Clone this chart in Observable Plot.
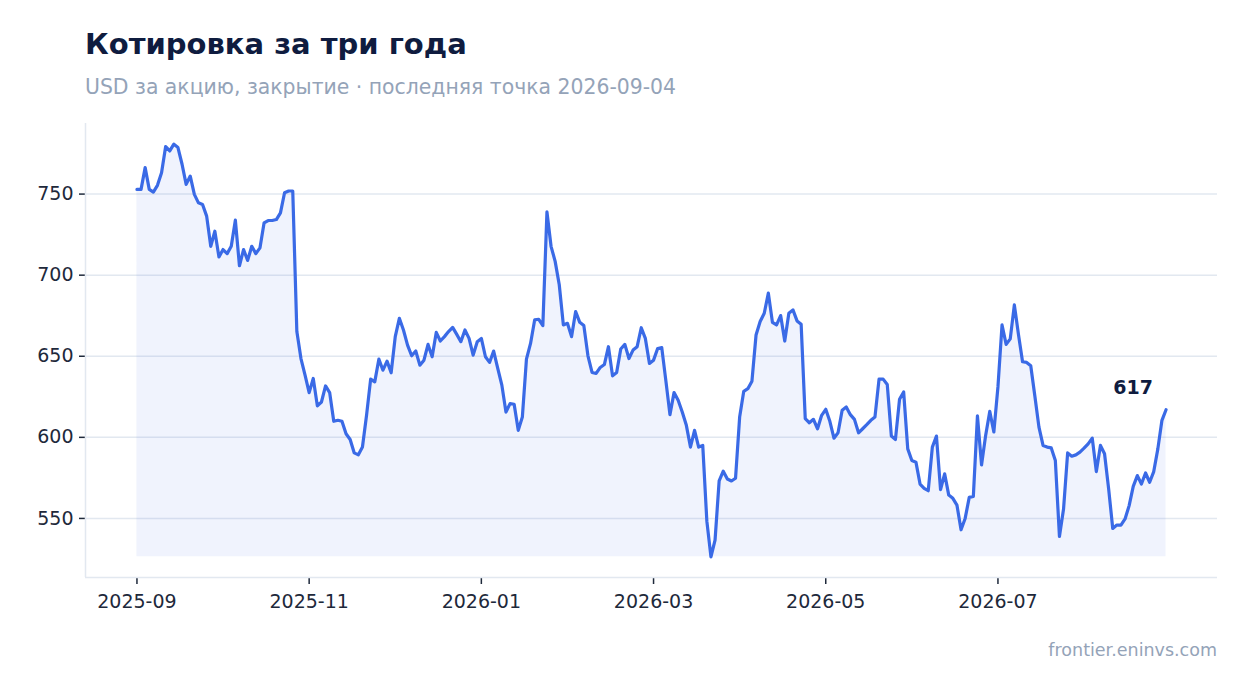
<!DOCTYPE html>
<html>
<head>
<meta charset="utf-8">
<script src="https://cdn.jsdelivr.net/npm/d3@7"></script>
<script src="https://cdn.jsdelivr.net/npm/@observablehq/plot@0.6"></script>
<style>
  html, body { margin: 0; padding: 0; background: #ffffff; }
  body { width: 1247px; height: 693px; overflow: hidden; position: relative; font-family: "DejaVu Sans", sans-serif; }
  #title { position: absolute; left: 85px; top: 30px; font-weight: bold; font-size: 29px; line-height: 29px; color: #0f1c3f; white-space: nowrap; }
  #sub { position: absolute; left: 85px; top: 77px; font-size: 20.4px; line-height: 20px; color: #94a3b8; white-space: nowrap; }
  #chart { position: absolute; left: 0; top: 110px; }
  #cap { position: absolute; right: 30px; top: 642px; font-size: 17.5px; line-height: 17px; color: #94a3b8; white-space: nowrap; }
  #chart svg g[aria-label="y-axis tick"] path, #chart svg g[aria-label="x-axis tick"] path { stroke-width: 1.5; }
</style>
</head>
<body>
<div id="title">Котировка за три года</div>
<div id="sub">USD за акцию, закрытие · последняя точка 2026-09-04</div>
<div id="chart"></div>
<div id="cap">frontier.eninvs.com</div>
<script>
// Closing prices, USD per share (trading days, oldest first)
const closes = [
  752.9, 752.9, 766.3, 752.9, 751.2, 755.4, 763.2, 779.3, 776.6, 780.8,
  778.7, 768.4, 756.0, 761.1, 749.8, 744.6, 743.6, 736.4, 717.8, 727.1,
  711.2, 715.8, 713.3, 717.8, 733.9, 705.8, 715.8, 709.1, 717.8, 713.3,
  716.8, 732.2, 733.7, 733.7, 734.3, 738.4, 750.8, 751.9, 751.9, 665.2,
  648.6, 638.3, 627.6, 636.3, 619.4, 621.8, 631.7, 627.6, 609.9, 610.5,
  609.9, 602.2, 598.7, 590.4, 589.2, 594.0, 613.6, 635.9, 634.2, 648.2,
  641.4, 647.0, 639.8, 662.1, 673.4, 666.2, 656.9, 650.3, 653.2, 644.5,
  647.6, 657.3, 649.7, 664.7, 659.4, 662.1, 665.2, 667.8, 663.5, 659.0,
  666.2, 661.0, 650.7, 659.0, 661.0, 649.7, 646.2, 653.2, 642.5, 632.2,
  615.6, 620.8, 620.4, 604.3, 612.5, 648.2, 657.9, 672.4, 672.8, 668.9,
  739.0, 717.8, 708.5, 694.1, 669.3, 670.3, 662.1, 677.6, 670.9, 668.9,
  650.3, 640.0, 639.4, 643.1, 644.9, 655.9, 637.9, 640.0, 654.5, 657.3,
  648.6, 653.8, 655.9, 667.6, 661.0, 645.6, 647.6, 654.8, 655.3, 635.0,
  614.0, 627.6, 622.9, 615.6, 607.4, 594.0, 604.3, 594.0, 595.0, 548.3,
  526.3, 536.6, 573.1, 579.1, 574.3, 573.1, 574.8, 612.5, 628.4, 630.0,
  634.6, 663.1, 671.4, 676.5, 688.9, 670.9, 669.3, 675.1, 659.4, 676.5,
  678.6, 671.8, 669.7, 611.5, 609.0, 611.1, 605.3, 613.6, 617.3, 609.9,
  599.5, 602.8, 616.7, 618.7, 614.0, 611.1, 602.8, 605.3, 607.8, 610.5,
  612.5, 635.9, 635.9, 632.6, 600.8, 598.7, 623.5, 628.0, 592.9, 585.7,
  584.7, 571.2, 568.6, 567.1, 594.0, 600.8, 567.8, 577.5, 564.4, 562.4,
  558.2, 543.0, 550.0, 563.0, 563.6, 613.2, 583.0, 601.2, 616.0, 603.3,
  631.1, 669.3, 657.3, 660.7, 681.7, 663.5, 646.6, 646.2, 644.1, 625.5,
  606.3, 595.0, 594.0, 593.5, 585.7, 538.9, 555.8, 590.4, 588.4, 589.2,
  590.9, 593.3, 596.0, 599.5, 578.9, 595.0, 589.9, 568.2, 543.8, 545.9,
  545.9, 549.7, 557.9, 569.8, 576.4, 571.2, 578.0, 572.3, 578.9, 592.9,
  610.5, 617.0
];

// X-axis tick labels and the trading-day index each one sits on
const tickLabels = ["2025-09", "2025-11", "2026-01", "2026-03", "2026-05", "2026-07"];
const tickIndex = [0, 42, 84, 126, 168, 210];

// Y-axis ticks
const yTicks = [550, 600, 650, 700, 750];

const pts = closes.map((v, i) => ({ i, v }));
const n = closes.length - 1;
const [mn, mx] = d3.extent(closes);
const yPad = (mx - mn) * 0.05;
const xPad = n * 0.05;
const ylo = mn - yPad, yhi = mx + yPad;
const xlo = -xPad, xhi = n + xPad;

const chart = Plot.plot({
  width: 1247,
  height: 517,
  marginLeft: 85,
  marginRight: 30,
  marginTop: 13,
  marginBottom: 50,
  style: { fontFamily: "DejaVu Sans", fontSize: "19px", color: "#1e293b", background: "transparent", overflow: "visible" },
  x: {
    domain: [xlo, xhi],
    ticks: tickIndex,
    tickFormat: d => tickLabels[tickIndex.indexOf(d)],
    tickSize: 7,
    tickPadding: 10,
    label: null
  },
  y: {
    domain: [ylo, yhi],
    ticks: yTicks,
    tickSize: 6,
    tickPadding: 6,
    label: null
  },
  marks: [
    Plot.ruleY(yTicks, { stroke: "#e2e8f0", strokeWidth: 1.5 }),
    Plot.areaY(pts, { x: "i", y1: mn, y2: "v", fill: "#3b6ae5", fillOpacity: 0.08 }),
    Plot.ruleX([xlo], { stroke: "#e2e8f0", strokeWidth: 1.5 }),
    Plot.ruleY([ylo], { stroke: "#e2e8f0", strokeWidth: 1.5 }),
    Plot.line(pts, { x: "i", y: "v", stroke: "#3a6ae6", strokeWidth: 3.2, strokeLinejoin: "round", strokeLinecap: "round" }),
    Plot.text([pts[n]], {
      x: "i", y: "v",
      text: d => d3.format(".0f")(d.v),
      textAnchor: "end", dx: -13, dy: -22,
      fontWeight: "bold", fontSize: 19, fill: "#0f1c3f"
    })
  ]
});
document.getElementById("chart").appendChild(chart);
</script>
</body>
</html>
